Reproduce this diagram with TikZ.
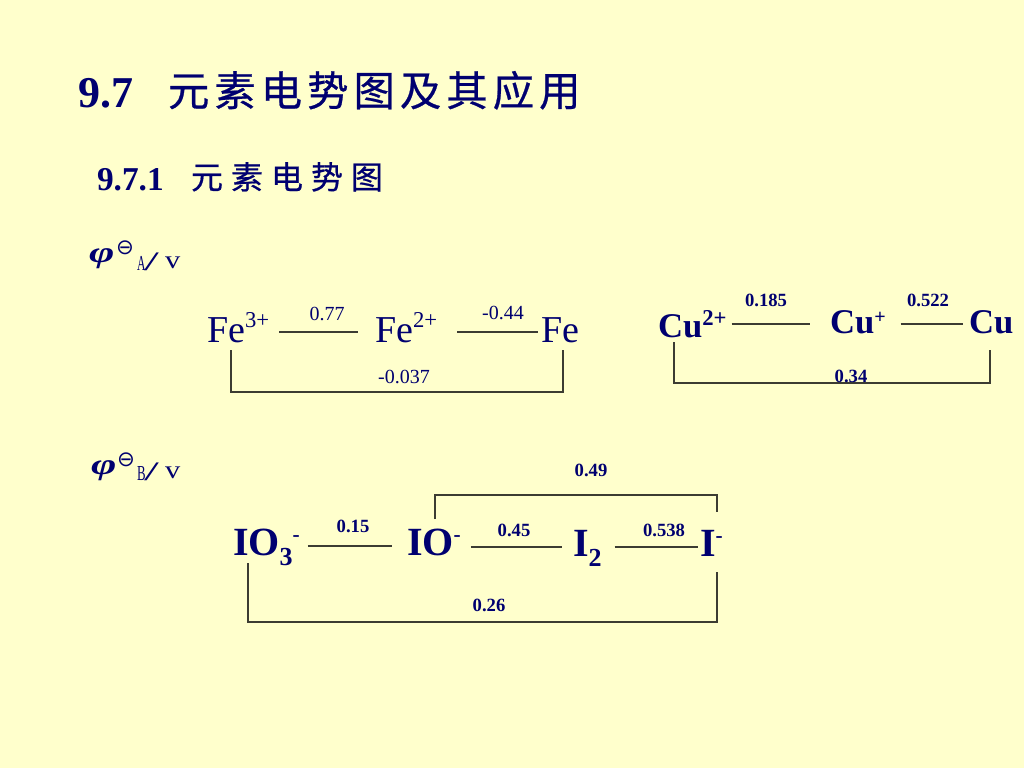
\documentclass[tikz,border=0pt]{standalone}
\usepackage{fontspec}
\setmainfont{Liberation Serif}
\newfontfamily\cjk[FakeBold=0.6]{Noto Sans CJK SC}
\newfontfamily\dvs{DejaVu Sans}
\usetikzlibrary{calc}
\definecolor{bg}{RGB}{255,255,204}
\definecolor{ink}{RGB}{0,0,112}
\definecolor{rulec}{RGB}{60,60,50}
\newcommand\fsz[1]{\fontsize{#1}{#1}\selectfont}
\newlength\cw
\newcommand\cb[1]{\makebox[\cw][l]{#1}}
\begin{document}
\begin{tikzpicture}[x=0.75pt,y=-0.75pt,
  every node/.style={inner sep=0pt,outer sep=0pt,text=ink},
  sp/.style={anchor=base west},
  bond/.style={draw=rulec,line width=1pt},
  lblb/.style={font=\fsz{14}\bfseries},
  lblr/.style={font=\fsz{15}}]
\fill[bg] (0,0) rectangle (1024,768);
\useasboundingbox (0,0) rectangle (1024,768);
% headings
\node[sp] (t1) at (78,107) {\fsz{33}\bfseries 9.7};
\node[sp] (t1c) at (168,106) {\cjk\fsz{31}\setlength\cw{34.8pt}\cb{元}\cb{素}\cb{电}\cb{势}\cb{图}\cb{及}\cb{其}\cb{应}用};
\node[sp] (t2) at (97,190) {\fsz{25}\bfseries 9.7.1};
\node[sp] (t2c) at (191,189) {\cjk\fsz{24}\setlength\cw{30pt}\cb{元}\cb{素}\cb{电}\cb{势}图};
% phi A
\node[sp] (phiA) at (89,262) {\fsz{26}\bfseries\itshape\scalebox{1.25}[0.85]{φ}};
\node[sp] (thA) at (116,254) {\dvs\fsz{16}⊖};
\node[sp] (subA) at (137,270) {\fsz{16}\scalebox{0.55}[1]{A}};
\node[sp] (slA) at (144,270) {\fsz{20}\scalebox{2.0}[1]{/}};
\node[sp] (vA) at (165,268) {\fsz{19}\scalebox{1.2}[1]{v}};
% phi B
\node[sp] (phiB) at (91,474) {\fsz{26}\bfseries\itshape\scalebox{1.25}[0.85]{φ}};
\node[sp] (thB) at (117,466) {\dvs\fsz{16}⊖};
\node[sp] (subB) at (137,480) {\fsz{16}\scalebox{0.6}[1]{B}};
\node[sp] (slB) at (144,480) {\fsz{20}\scalebox{2.0}[1]{/}};
\node[sp] (vB) at (165,478) {\fsz{19}\scalebox{1.2}[1]{v}};
% Fe row
\node[sp] (fe3) at (207,342) {\fsz{28.5}Fe\raisebox{11pt}{\fsz{17}3+}};
\node[sp] (fe2) at (375,342) {\fsz{28.5}Fe\raisebox{11pt}{\fsz{17}2+}};
\node[sp] (fe)  at (541,342) {\fsz{28.5}Fe};
\draw[bond] ($(fe3.base east)+(10,-10)$) -- ($(fe2.base west)+(-17,-10)$);
\draw[bond] ($(fe2.base east)+(20,-10)$) -- ($(fe.base west)+(-3,-10)$);
\draw[bond] ($(fe3.base west)+(24,8)$) |- ($(fe.base west)+(22,50)$) -- ($(fe.base west)+(22,8)$);
\node[lblr] (l077) at (327,314) {0.77};
\node[lblr] (l044) at (503,313) {-0.44};
\node[lblr] (l0037) at (404,377) {-0.037};
% Cu row
\node[sp] (cu2) at (658,337) {\fsz{26}\bfseries Cu\raisebox{9pt}{\fsz{17}2+}};
\node[sp] (cup) at (830,333) {\fsz{26}\bfseries Cu\raisebox{7pt}{\fsz{15}+}};
\node[sp] (cu)  at (969,333) {\fsz{26}\bfseries Cu};
\draw[bond] ($(cu2.base east)+(5,-13)$) -- ($(cup.base west)+(-20,-9)$);
\draw[bond] ($(cup.base east)+(15,-9)$) -- ($(cu.base west)+(-6,-9)$);
\draw[bond] ($(cu2.base west)+(16,5)$) |- ($(cu.base west)+(21,50)$) -- ($(cu.base west)+(21,17)$);
\node[lblb] (l0185) at (766,300) {0.185};
\node[lblb] (l0522) at (928,300) {0.522};
\node[lblb] (l034) at (851,376) {0.34};
% I row
\node[sp] (io3) at (233,555) {\fsz{30}\bfseries IO\raisebox{-8pt}{\fsz{19.5}3}\raisebox{10pt}{\fsz{16}-}};
\node[sp] (io)  at (407,555) {\fsz{30}\bfseries IO\raisebox{10pt}{\fsz{16}-}};
\node[sp] (i2)  at (573,556) {\fsz{30}\bfseries I\raisebox{-7.5pt}{\fsz{19.5}2}};
\node[sp] (im)  at (700,556) {\fsz{30}\bfseries I\raisebox{10pt}{\fsz{16}-}};
\draw[bond] ($(io3.base east)+(8,-9)$) -- ($(io.base west)+(-15,-9)$);
\draw[bond] ($(io.base east)+(10,-8)$) -- ($(i2.base west)+(-11,-9)$);
\draw[bond] ($(i2.base east)+(13,-9)$) -- ($(im.base west)+(-2,-9)$);
\draw[bond] ($(io.base west)+(28,-36)$) |- ($(im.base west)+(17,-61)$) -- ($(im.base west)+(17,-44)$);
\draw[bond] ($(io3.base west)+(15,8)$) |- ($(im.base west)+(17,66)$) -- ($(im.base west)+(17,16)$);
\node[lblb] (l015) at (353,526) {0.15};
\node[lblb] (l045) at (514,530) {0.45};
\node[lblb] (l0538) at (664,530) {0.538};
\node[lblb] (l049) at (591,470) {0.49};
\node[lblb] (l026) at (489,605) {0.26};
\end{tikzpicture}
\end{document}
